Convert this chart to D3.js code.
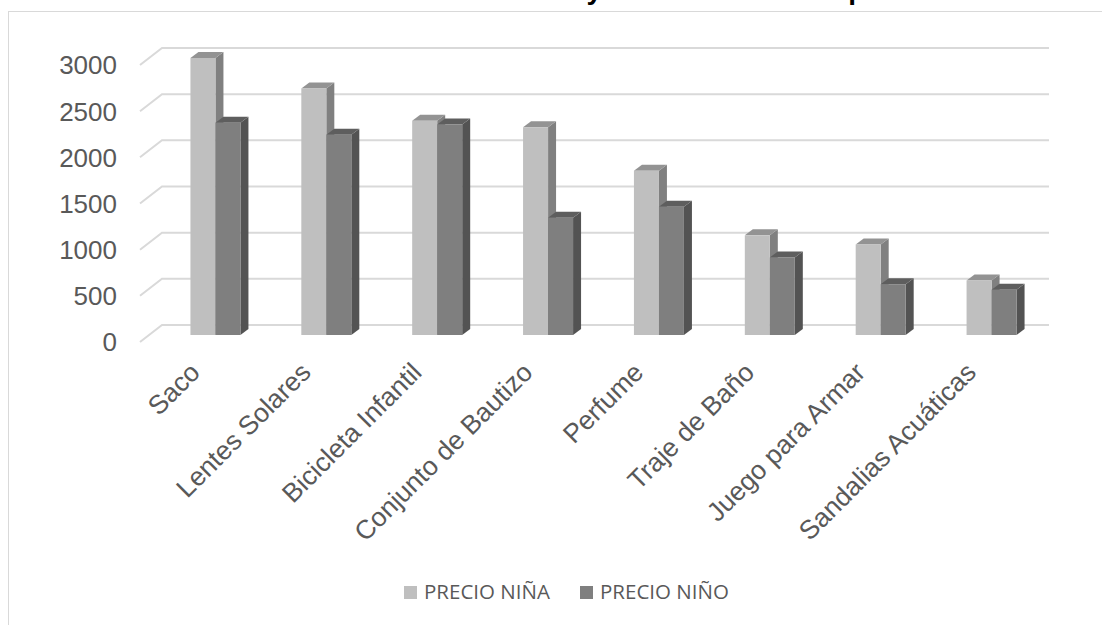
<!DOCTYPE html>
<html>
<head>
<meta charset="utf-8">
<script src="https://cdn.jsdelivr.net/npm/d3@7"></script>
<style>
  body { margin: 0; background: #fff; }
  svg { display: block; }
</style>
</head>
<body>
<svg id="chart" width="1102" height="625"></svg>
<script>
// datos
var categorias = ["Saco", "Lentes Solares", "Bicicleta Infantil", "Conjunto de Bautizo", "Perfume", "Traje de Baño", "Juego para Armar", "Sandalias Acuáticas"];
var precioNina = [3000, 2670, 2320, 2250, 1780, 1080, 980, 590];
var precioNino = [2300, 2170, 2280, 1270, 1390, 840, 550, 490];
var series = ["PRECIO NIÑA", "PRECIO NIÑO"];
var ticksY = [0, 500, 1000, 1500, 2000, 2500, 3000];
var titulo = "Diferencia de Precios de Niña y Niño en Artículos por Tienda";

var svg = d3.select("#chart");

// colores: frente, arriba, lado
var colores = [
  { front: "#bfbfbf", top: "#939393", side: "#808080" },
  { front: "#7f7f7f", top: "#5e5e5e", side: "#535353" }
];

// profundidad 3d
var depthX = 22, depthY = 17;   // piso completo
var barDX = 8, barDY = 6;       // profundidad de la barra
var base = 335;                 // frente de las barras en 0

var y = d3.scaleLinear().domain([0, 3000]).range([base, 58]);
var x = d3.scaleBand().domain(categorias).range([160, 1047]).padding(0);
var x1 = d3.scaleBand().domain(series).range([0, 50]).padding(0);

// marco
svg.append("rect")
  .attr("x", 8.5).attr("y", 11.5)
  .attr("width", 1200).attr("height", 700)
  .attr("fill", "none")
  .attr("stroke", "#d9d9d9")
  .attr("stroke-width", 1);

// titulo (cortado arriba, como en la imagen)
svg.append("text")
  .attr("x", 185)
  .attr("y", -1)
  .attr("font-family", "Liberation Sans, Arial, sans-serif")
  .attr("font-weight", "bold")
  .attr("font-size", 28)
  .attr("fill", "#000")
  .text(titulo);

// lineas de cuadricula con piso diagonal
var grid = svg.append("g");
ticksY.forEach(function (t) {
  var yb = y(t) - 10;
  grid.append("path")
    .attr("d", "M140," + (yb + depthY) + "L" + (140 + depthX) + "," + yb + "L1049," + yb)
    .attr("fill", "none")
    .attr("stroke", "#d9d9d9")
    .attr("stroke-width", 2);
  svg.append("text")
    .attr("x", 117)
    .attr("y", yb + depthY)
    .attr("dy", "0.36em")
    .attr("text-anchor", "end")
    .attr("font-family", "Liberation Sans, Arial, sans-serif")
    .attr("font-size", 26)
    .attr("fill", "#595959")
    .text(t);
});

// barras
var barras = svg.append("g");
categorias.forEach(function (c, i) {
  var vals = [precioNina[i], precioNino[i]];
  series.forEach(function (s, j) {
    var x0 = x(c) + x.bandwidth() / 2 - 25 + x1(s);
    var w = x1.bandwidth();
    var yt = y(vals[j]);
    barras.append("path")
      .attr("d", "M" + (x0 + w) + "," + yt + "L" + (x0 + w + barDX) + "," + (yt - barDY) +
        "L" + (x0 + w + barDX) + "," + (base - barDY) + "L" + (x0 + w) + "," + base + "Z")
      .attr("fill", colores[j].side);
    barras.append("path")
      .attr("d", "M" + x0 + "," + yt + "L" + (x0 + barDX) + "," + (yt - barDY) +
        "L" + (x0 + w + barDX) + "," + (yt - barDY) + "L" + (x0 + w) + "," + yt + "Z")
      .attr("fill", colores[j].top);
    barras.append("rect")
      .attr("x", x0).attr("y", yt)
      .attr("width", w).attr("height", base - yt)
      .attr("fill", colores[j].front);
  });
});

// etiquetas de categorias
categorias.forEach(function (c) {
  var cx = x(c) + x.bandwidth() / 2;
  svg.append("text")
    .attr("transform", "translate(" + (cx - 14) + ",374) rotate(-45)")
    .attr("text-anchor", "end")
    .attr("font-family", "Liberation Sans, Arial, sans-serif")
    .attr("font-size", 26.5)
    .attr("fill", "#595959")
    .text(c);
});

// leyenda
var legX = [404, 580];
series.forEach(function (s, j) {
  svg.append("rect")
    .attr("x", legX[j]).attr("y", 586)
    .attr("width", 13).attr("height", 13)
    .attr("fill", colores[j].front);
  svg.append("text")
    .attr("x", legX[j] + 20)
    .attr("y", 599)
    .attr("font-family", "Open Sans, sans-serif")
    .attr("font-size", 20.5)
    .attr("fill", "#595959")
    .text(s);
});
</script>
</body>
</html>
